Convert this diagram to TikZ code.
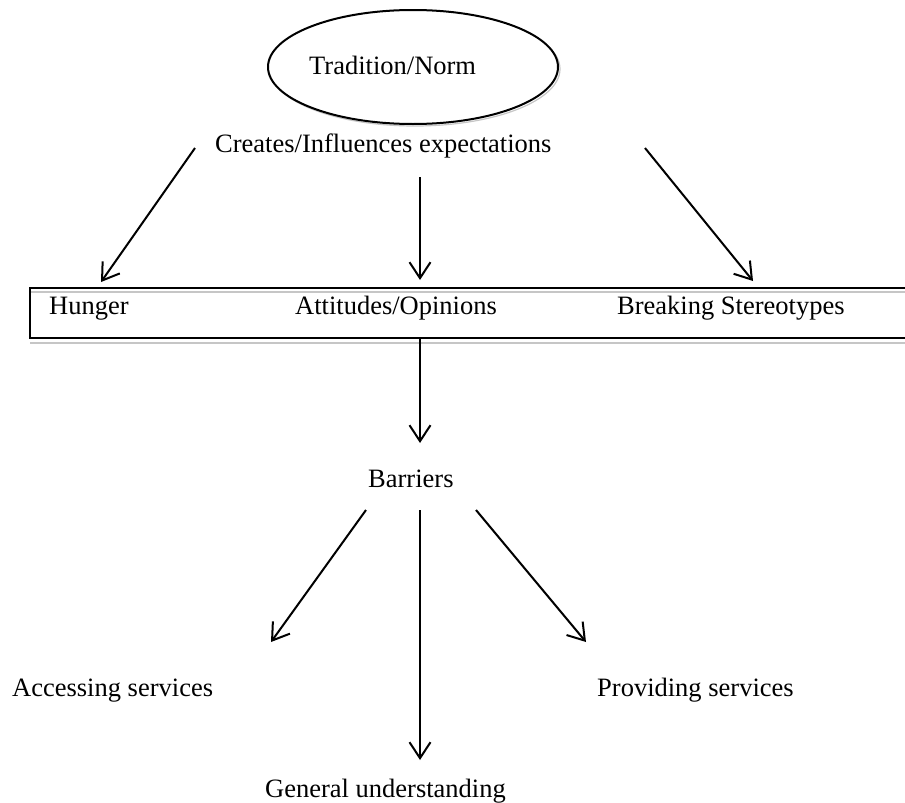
\documentclass[tikz,border=0pt]{standalone}
\usepackage{fontspec}
\setmainfont{Liberation Serif}
\usetikzlibrary{arrows.meta}
\begin{document}
\begin{tikzpicture}[x=1pt,y=-1pt,
  lbl/.style={anchor=base west,inner sep=0pt,font=\fontsize{26.5}{30}\selectfont},
  arr/.style={line width=2pt,-{Straight Barb[length=16pt,width=21pt,line width=2pt]}},
  shad/.style={draw=gray!45,line width=1.2pt}]
\useasboundingbox (0,0) rectangle (905,803);
\clip (0,0) rectangle (905,803);
% ellipse
\draw[shad] (415,69) ellipse [x radius=145,y radius=57];
\draw[line width=2pt,fill=white] (413,67) ellipse [x radius=145,y radius=57];
\node[lbl] (trad) at (309,74) {Tradition/Norm};
\node[lbl] (creates) at (215,152) {Creates/Influences expectations};
% box
\draw[shad] (30,292) -- (920,292);
\draw[shad] (30,343) -- (920,343);
\draw[line width=2.4pt] (30,288) rectangle (920,338);
\node[lbl] (hunger) at (49,314) {Hunger};
\node[lbl] (att) at (295,314) {Attitudes/Opinions};
\node[lbl] (break) at (617,314) {Breaking Stereotypes};
\node[lbl] (barr) at (368,487) {Barriers};
\node[lbl] (acc) at (12,696) {Accessing services};
\node[lbl] (prov) at (597,696) {Providing services};
\node[lbl] (gen) at (265,797) {General understanding};
% connector coordinates
\coordinate (c1s) at (195,148); \coordinate (c1e) at (101,282);
\coordinate (c2s) at (420,177); \coordinate (c2e) at (420,280);
\coordinate (c3s) at (645,148); \coordinate (c3e) at (753,281);
\coordinate (b0s) at (420,338); \coordinate (b0e) at (420,443);
\coordinate (b1s) at (366,510); \coordinate (b1e) at (271,642);
\coordinate (b2s) at (420,510); \coordinate (b2e) at (420,760);
\coordinate (b3s) at (476,510); \coordinate (b3e) at (586,642);
\foreach \s/\e in {c1s/c1e,c2s/c2e,c3s/c3e,b0s/b0e,b1s/b1e,b2s/b2e,b3s/b3e}
  \draw[arr] (\s) -- (\e);
\end{tikzpicture}
\end{document}
